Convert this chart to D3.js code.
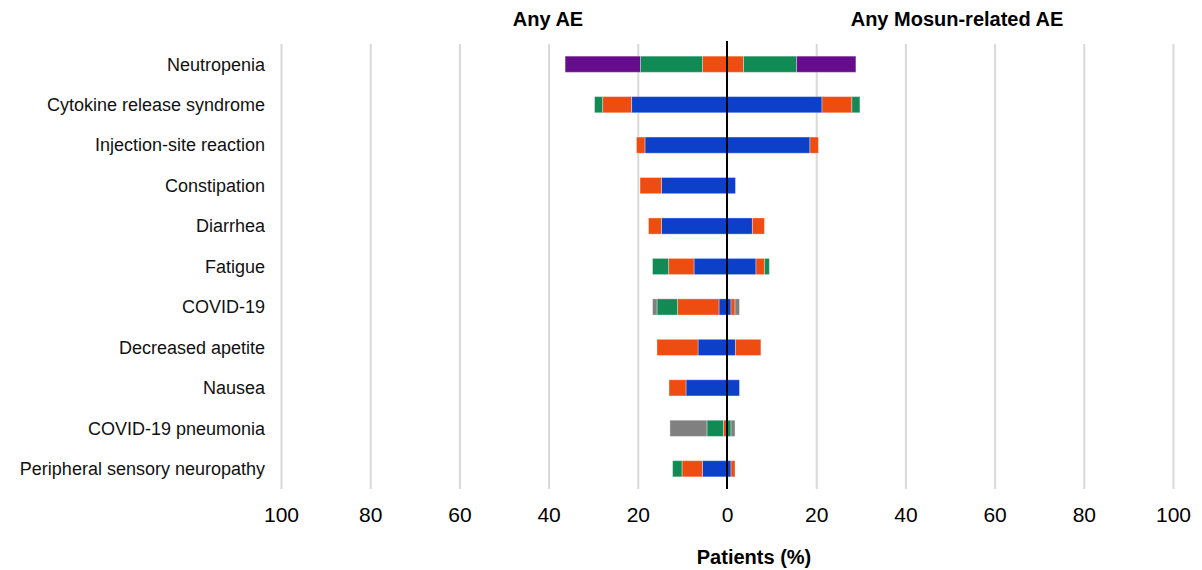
<!DOCTYPE html>
<html><head><meta charset="utf-8">
<script src="https://cdn.jsdelivr.net/npm/d3@7"></script>
<style>body{margin:0;background:#fff}svg{display:block;font-family:"Liberation Sans",Arial,sans-serif}</style>
</head><body><svg id="c" width="1202" height="570"></svg>
<script>
const categories = ["Neutropenia","Cytokine release syndrome","Injection-site reaction","Constipation","Diarrhea","Fatigue","COVID-19","Decreased apetite","Nausea","COVID-19 pneumonia","Peripheral sensory neuropathy"];
const grades = ["Grade 1","Grade 2","Grade 3","Grade 4","Grade 5"];
const gradeColors = ["#0c40c9","#ee4d11","#128a55","#650d8a","#808080"];
// Any AE (left side)
const anyG1 = [0, 21.4, 18.4, 14.7, 14.7, 7.4, 1.8, 6.5, 9.2, 0, 5.5];
const anyG2 = [5.5, 6.5, 1.9, 4.8, 2.9, 5.7, 9.3, 9.2, 3.8, 0.8, 4.6];
const anyG3 = [13.9, 1.8, 0, 0, 0, 3.6, 4.6, 0, 0, 3.7, 2.1];
const anyG4 = [16.9, 0, 0, 0, 0, 0, 0, 0, 0, 0, 0];
const anyG5 = [0, 0, 0, 0, 0, 0, 1.0, 0, 0, 8.3, 0];
// Any Mosun-related AE (right side)
const relG1 = [0, 21.3, 18.6, 1.9, 5.7, 6.5, 0.9, 1.9, 2.8, 0, 0.9];
const relG2 = [3.7, 6.7, 1.9, 0, 2.7, 1.9, 0.9, 5.7, 0, 0, 0.9];
const relG3 = [11.9, 1.8, 0, 0, 0, 1.1, 0, 0, 0, 0.9, 0];
const relG4 = [13.3, 0, 0, 0, 0, 0, 0, 0, 0, 0, 0];
const relG5 = [0, 0, 0, 0, 0, 0, 1.0, 0, 0, 0.9, 0];
const xTicks = [-100,-80,-60,-40,-20,0,20,40,60,80,100];
const leftTitle = "Any AE", rightTitle = "Any Mosun-related AE", xTitle = "Patients (%)";

const anyCols = [anyG1,anyG2,anyG3,anyG4,anyG5];
const relCols = [relG1,relG2,relG3,relG4,relG5];
const rows = (cols) => categories.map((c,i)=>{const r={cat:c}; grades.forEach((g,k)=>r[g]=cols[k][i]); return r;});
const stack = d3.stack().keys(grades);
const anyStack = stack(rows(anyCols));
const relStack = stack(rows(relCols));

const svg = d3.select("#c");
const x = d3.scaleLinear().domain([-100,100]).range([281,1173]);
const plotTop=44, plotBottom=489;
const y = d3.scaleBand().domain(categories).range([plotTop,plotBottom]).paddingInner(0.6).paddingOuter(0.3);

// gridlines
svg.append("g").attr("transform",`translate(0,${plotBottom})`)
  .call(d3.axisBottom(x).tickValues(xTicks.filter(t=>t!==0)).tickSize(-(plotBottom-plotTop)).tickFormat(""))
  .call(g=>g.select(".domain").remove())
  .call(g=>g.selectAll("line").attr("stroke","#d9d9d9").attr("stroke-width",2));

// bars
function drawSide(st, sign){
  svg.append("g").selectAll("g").data(st).join("g")
    .attr("fill",(d,i)=>gradeColors[i])
    .selectAll("rect").data(d=>d).join("rect")
    .attr("x",d=> sign<0 ? x(-d[1]) : x(d[0]))
    .attr("width",d=> Math.abs(x(d[1])-x(d[0])))
    .attr("y",d=>y(d.data.cat))
    .attr("height",y.bandwidth())
    .attr("stroke","rgba(255,255,255,0.35)").attr("stroke-width",1);
}
drawSide(anyStack,-1);
drawSide(relStack,1);

// zero line
svg.append("line").attr("x1",x(0)).attr("x2",x(0)).attr("y1",41).attr("y2",plotBottom)
  .attr("stroke","#000").attr("stroke-width",2);

// category labels
svg.append("g").selectAll("text").data(categories).join("text")
  .attr("x",265).attr("y",d=>y(d)+y.bandwidth()/2).attr("dy","0.35em")
  .attr("text-anchor","end").attr("font-size",18).attr("fill","#111").text(d=>d);

// x tick labels
svg.append("g").attr("transform",`translate(0,${plotBottom})`)
  .call(d3.axisBottom(x).tickValues(xTicks).tickSize(0).tickPadding(18).tickFormat(d=>Math.abs(d)))
  .call(g=>g.select(".domain").remove())
  .call(g=>g.selectAll("text").attr("font-size",21).attr("fill","#000").attr("font-family","Liberation Sans, Arial, sans-serif"));

// titles
svg.append("text").attr("x",548).attr("y",26).attr("text-anchor","middle").attr("font-weight","bold").attr("font-size",20).text(leftTitle);
svg.append("text").attr("x",957).attr("y",26).attr("text-anchor","middle").attr("font-weight","bold").attr("font-size",20).text(rightTitle);
svg.append("text").attr("x",754).attr("y",564).attr("text-anchor","middle").attr("font-weight","bold").attr("font-size",20).text(xTitle);
</script></body></html>
